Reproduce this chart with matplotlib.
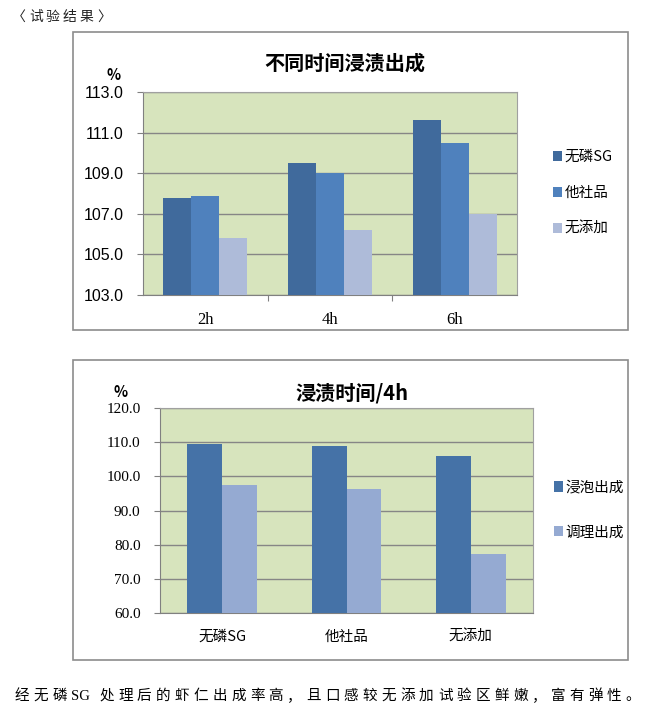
import numpy as np
import matplotlib
matplotlib.use("Agg")
import matplotlib.pyplot as plt
from matplotlib.patches import Rectangle

plt.rcParams['font.family'] = ['Noto Sans CJK SC', 'DejaVu Sans']

# ========== 数据 ==========
times = ["2h", "4h", "6h"]
sg_vals = [107.8, 109.5, 111.6]
other_vals = [107.9, 109.0, 110.5]
none_vals = [105.8, 106.2, 107.0]
series1_names = ["无磷SG", "他社品", "无添加"]

groups2 = ["无磷SG", "他社品", "无添加"]
soak_vals = [109.5, 109.0, 106.0]
cook_vals = [97.5, 96.3, 77.2]
series2_names = ["浸泡出成", "调理出成"]
# ==========================

W, H = 650, 719
fig = plt.figure(figsize=(W / 100, H / 100), dpi=100)

def box(x0, y0, x1, y1):
    # 像素坐标 -> figure 坐标
    return [x0 / W, 1 - y1 / H, (x1 - x0) / W, (y1 - y0) / H]

def fx(x):
    return x / W

def fy(y):
    return 1 - y / H

bg = "#D7E4BD"
grid_c = "#868686"
serif = ["Liberation Serif", "DejaVu Serif"]
narrow = ["Liberation Sans Narrow", "Liberation Sans", "DejaVu Sans"]

# 外框
for y0, y1 in [(32, 330), (360, 660)]:
    fig.patches.append(Rectangle((fx(73), fy(y1)), fx(628) - fx(73), fy(y0) - fy(y1),
                                 transform=fig.transFigure, fill=False,
                                 edgecolor="#8C8C8C", linewidth=1.2))

def style_ax(ax, ylo, yhi, step, fam, fs):
    ax.set_facecolor(bg)
    ax.set_ylim(ylo, yhi)
    ticks = np.arange(ylo, yhi + 0.01, step)
    ax.set_yticks(ticks)
    ax.set_yticklabels([f"{v:.1f}" for v in ticks], family=fam, fontsize=fs)
    ax.grid(axis="y", color=grid_c, linewidth=1.0)
    ax.set_axisbelow(True)
    for s in ["top", "right"]:
        ax.spines[s].set_color("#A0A0A0")
    for s in ["left", "bottom"]:
        ax.spines[s].set_color("#808080")
    ax.set_xlim(-0.5, 2.5)
    ax.set_xticks([0.5, 1.5], minor=False)
    ax.set_xticklabels([])
    ax.tick_params(axis="x", length=4, color="#808080")
    ax.tick_params(axis="y", length=4, color="#808080", pad=10)

# ---- 图1 ----
ax1 = fig.add_axes(box(143, 92, 517, 295))
style_ax(ax1, 103, 113, 2, narrow, 11.5)
x = np.arange(len(times))
w = 0.225
cols1 = ["#406A9C", "#4F81BD", "#AEBBD9"]
for i, (vals, c) in enumerate(zip([sg_vals, other_vals, none_vals], cols1)):
    ax1.bar(x + (i - 1) * w, np.array(vals) - 103, width=w, bottom=103, color=c,
            label=series1_names[i], zorder=3)
for xi, t in zip(x, times):
    ax1.text(xi, 101.75, t, ha="center", va="center", family=serif, fontsize=12)
fig.text(fx(345), fy(63), "不同时间浸渍出成", ha="center", va="center",
         fontsize=14.5, fontweight="bold")
fig.text(fx(114), fy(75), "%", ha="center", va="center", fontsize=10.5, fontweight="bold")
ax1.legend(loc="center left", bbox_to_anchor=(fx(540), fy(193)),
           bbox_transform=fig.transFigure, frameon=False, handlelength=0.6,
           handleheight=0.7, handletextpad=0.2, labelspacing=1.5, fontsize=10.5)

# ---- 图2 ----
ax2 = fig.add_axes(box(160, 408, 533, 613))
style_ax(ax2, 60, 120, 10, serif, 11)
w2 = 0.28
cols2 = ["#4572A7", "#95AAD2"]
for i, (vals, c) in enumerate(zip([soak_vals, cook_vals], cols2)):
    ax2.bar(x + (i - 0.5) * w2, np.array(vals) - 60, width=w2, bottom=60, color=c,
            label=series2_names[i], zorder=3)
ax2.tick_params(axis="x", length=0)
for xi, t in zip(x, groups2):
    ax2.text(xi, 53.0, t, ha="center", va="center", fontsize=10.5)
fig.text(fx(352), fy(393), "浸渍时间/4h", ha="center", va="center",
         fontsize=14.5, fontweight="bold")
fig.text(fx(121), fy(392), "%", ha="center", va="center", fontsize=10.5, fontweight="bold")
ax2.legend(loc="center left", bbox_to_anchor=(fx(541), fy(510)),
           bbox_transform=fig.transFigure, frameon=False, handlelength=0.6,
           handleheight=0.7, handletextpad=0.2, labelspacing=2.1, fontsize=10.5)

# ---- 文字 ----
head = ["〈", "试", "验", "结", "果", "〉"]
hx = 12
for ch in head:
    fig.text(fx(hx), fy(17), ch, ha="left", va="center", fontsize=10, color="#222222")
    hx += 17

foot = ["经", "无", "磷", "SG", "处", "理", "后", "的", "虾", "仁", "出", "成", "率", "高", "，",
        "且", "口", "感", "较", "无", "添", "加", "试", "验", "区", "鲜", "嫩", "，",
        "富", "有", "弹", "性", "。"]
px = 15
for tok in foot:
    fig.text(fx(px), fy(696), tok, ha="left", va="center", fontsize=10.5,
             family=["Liberation Serif", "Noto Sans CJK SC"] if tok == "SG" else None)
    px += 28 if tok == "SG" else 18.8

fig.savefig("out.png", dpi=100)
